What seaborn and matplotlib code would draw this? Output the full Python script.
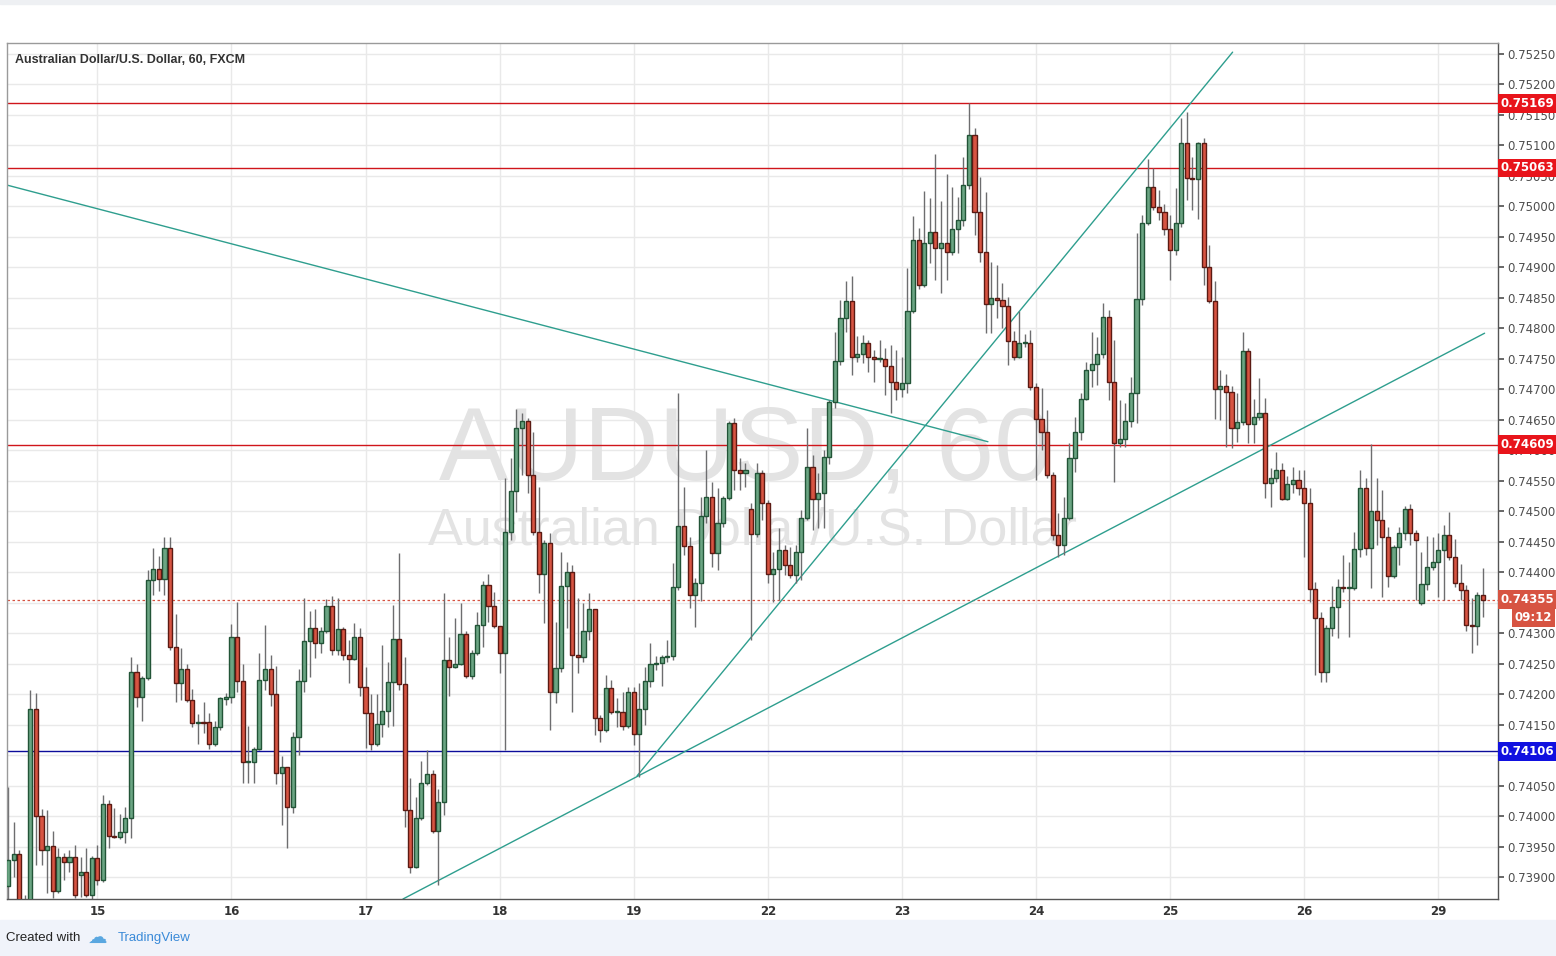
import numpy as np
import pandas as pd
import seaborn as sns
import matplotlib.pyplot as plt
from matplotlib.transforms import blended_transform_factory

# hourly AUD/USD candles (FXCM, 60 min)
opens = [
    0.73885, 0.73928, 0.73938, 0.73854, 0.73846, 0.74176, 0.74000, 0.73944, 0.73951, 0.73877,
    0.73933, 0.73925, 0.73933, 0.73903, 0.73908, 0.73870, 0.73931, 0.73895, 0.74020, 0.73967,
    0.73966, 0.73974, 0.73997, 0.74236, 0.74195, 0.74226, 0.74387, 0.74405, 0.74389, 0.74440,
    0.74277, 0.74218, 0.74241, 0.74190, 0.74153, 0.74154, 0.74154, 0.74118, 0.74146, 0.74192,
    0.74195, 0.74294, 0.74221, 0.74089, 0.74089, 0.74110, 0.74223, 0.74241, 0.74200, 0.74071,
    0.74080, 0.74015, 0.74130, 0.74221, 0.74287, 0.74308, 0.74284, 0.74303, 0.74344, 0.74272,
    0.74307, 0.74264, 0.74258, 0.74294, 0.74212, 0.74169, 0.74118, 0.74151, 0.74172, 0.74220,
    0.74290, 0.74217, 0.74010, 0.73916, 0.73997, 0.74054, 0.74069, 0.73975, 0.74023, 0.74256,
    0.74244, 0.74249, 0.74299, 0.74230, 0.74267, 0.74313, 0.74379, 0.74344, 0.74312, 0.74267,
    0.74466, 0.74533, 0.74636, 0.74648, 0.74559, 0.74466, 0.74397, 0.74448, 0.74203, 0.74243,
    0.74377, 0.74400, 0.74264, 0.74261, 0.74303, 0.74340, 0.74161, 0.74141, 0.74210, 0.74171,
    0.74171, 0.74148, 0.74203, 0.74135, 0.74176, 0.74221, 0.74249, 0.74251, 0.74261, 0.74262,
    0.74376, 0.74476, 0.74443, 0.74363, 0.74382, 0.74492, 0.74523, 0.74431, 0.74481, 0.74522,
    0.74645, 0.74568, 0.74563, 0.74504, 0.74463, 0.74563, 0.74513, 0.74397, 0.74405, 0.74436,
    0.74412, 0.74395, 0.74433, 0.74489, 0.74572, 0.74520, 0.74530, 0.74589, 0.74679, 0.74746,
    0.74817, 0.74845, 0.74753, 0.74758, 0.74776, 0.74753, 0.74750, 0.74750, 0.74738, 0.74712,
    0.74700, 0.74710, 0.74828, 0.74945, 0.74871, 0.74940, 0.74958, 0.74932, 0.74940, 0.74925,
    0.74963, 0.74978, 0.75035, 0.75117, 0.74991, 0.74925, 0.74840, 0.74850, 0.74846, 0.74837,
    0.74779, 0.74753, 0.74776, 0.74776, 0.74704, 0.74651, 0.74630, 0.74559, 0.74461, 0.74445,
    0.74489, 0.74587, 0.74630, 0.74684, 0.74732, 0.74741, 0.74758, 0.74819, 0.74712, 0.74612,
    0.74618, 0.74648, 0.74694, 0.74848, 0.74973, 0.75032, 0.74999, 0.74991, 0.74963, 0.74929,
    0.74973, 0.75104, 0.75047, 0.75045, 0.75104, 0.74901, 0.74845, 0.74700, 0.74705, 0.74696,
    0.74636, 0.74646, 0.74763, 0.74643, 0.74655, 0.74661, 0.74546, 0.74554, 0.74568, 0.74520,
    0.74545, 0.74551, 0.74538, 0.74513, 0.74372, 0.74325, 0.74236, 0.74308, 0.74343, 0.74376,
    0.74374, 0.74374, 0.74438, 0.74538, 0.74440, 0.74500, 0.74486, 0.74458, 0.74394, 0.74441,
    0.74464, 0.74504, 0.74464, 0.74349, 0.74381, 0.74408, 0.74417, 0.74436, 0.74461, 0.74425,
    0.74382, 0.74371, 0.74313, 0.74312, 0.74363,
]
highs = [
    0.74048, 0.73990, 0.73944, 0.73870, 0.74207, 0.74202, 0.74011, 0.74010, 0.73975, 0.73948,
    0.73939, 0.73944, 0.73952, 0.73933, 0.73948, 0.73934, 0.73952, 0.74034, 0.74026, 0.74013,
    0.74003, 0.74015, 0.74261, 0.74249, 0.74230, 0.74404, 0.74440, 0.74427, 0.74458, 0.74458,
    0.74331, 0.74276, 0.74249, 0.74208, 0.74167, 0.74187, 0.74169, 0.74156, 0.74195, 0.74202,
    0.74315, 0.74351, 0.74249, 0.74148, 0.74113, 0.74267, 0.74313, 0.74264, 0.74246, 0.74098,
    0.74080, 0.74138, 0.74241, 0.74358, 0.74336, 0.74340, 0.74310, 0.74356, 0.74361, 0.74358,
    0.74310, 0.74289, 0.74317, 0.74308, 0.74244, 0.74200, 0.74200, 0.74281, 0.74253, 0.74346,
    0.74431, 0.74261, 0.74062, 0.74031, 0.74090, 0.74108, 0.74075, 0.74044, 0.74366, 0.74294,
    0.74325, 0.74349, 0.74303, 0.74272, 0.74335, 0.74385, 0.74397, 0.74367, 0.74312, 0.74554,
    0.74587, 0.74668, 0.74661, 0.74653, 0.74630, 0.74540, 0.74453, 0.74464, 0.74318, 0.74433,
    0.74417, 0.74412, 0.74358, 0.74349, 0.74366, 0.74340, 0.74166, 0.74231, 0.74223, 0.74194,
    0.74203, 0.74212, 0.74212, 0.74218, 0.74244, 0.74284, 0.74262, 0.74264, 0.74289, 0.74415,
    0.74694, 0.74540, 0.74458, 0.74390, 0.74523, 0.74600, 0.74548, 0.74538, 0.74525, 0.74648,
    0.74653, 0.74587, 0.74579, 0.74513, 0.74579, 0.74568, 0.74518, 0.74433, 0.74472, 0.74445,
    0.74441, 0.74445, 0.74502, 0.74636, 0.74592, 0.74563, 0.74600, 0.74682, 0.74794, 0.74846,
    0.74878, 0.74886, 0.74787, 0.74789, 0.74781, 0.74764, 0.74781, 0.74768, 0.74773, 0.74764,
    0.74753, 0.74899, 0.74984, 0.74965, 0.75025, 0.75014, 0.75086, 0.75009, 0.75053, 0.75032,
    0.75015, 0.75081, 0.75170, 0.75129, 0.75048, 0.75024, 0.74909, 0.74904, 0.74874, 0.74851,
    0.74796, 0.74828, 0.74790, 0.74797, 0.74710, 0.74702, 0.74666, 0.74564, 0.74497, 0.74523,
    0.74612, 0.74655, 0.74694, 0.74745, 0.74794, 0.74786, 0.74842, 0.74830, 0.74781, 0.74682,
    0.74677, 0.74720, 0.74956, 0.74986, 0.75078, 0.75063, 0.75027, 0.75004, 0.74986, 0.75030,
    0.75145, 0.75155, 0.75081, 0.75106, 0.75112, 0.74937, 0.74878, 0.74732, 0.74725, 0.74705,
    0.74694, 0.74794, 0.74768, 0.74684, 0.74719, 0.74686, 0.74571, 0.74597, 0.74579, 0.74558,
    0.74573, 0.74568, 0.74568, 0.74538, 0.74384, 0.74335, 0.74313, 0.74377, 0.74389, 0.74428,
    0.74417, 0.74466, 0.74568, 0.74554, 0.74610, 0.74554, 0.74535, 0.74474, 0.74445, 0.74474,
    0.74509, 0.74512, 0.74469, 0.74433, 0.74459, 0.74458, 0.74464, 0.74477, 0.74499, 0.74454,
    0.74413, 0.74379, 0.74358, 0.74367, 0.74407,
]
lows = [
    0.73854, 0.73900, 0.73843, 0.73838, 0.73838, 0.73920, 0.73920, 0.73874, 0.73865, 0.73874,
    0.73895, 0.73908, 0.73865, 0.73867, 0.73867, 0.73864, 0.73887, 0.73892, 0.73948, 0.73964,
    0.73962, 0.73956, 0.73964, 0.74179, 0.74156, 0.74223, 0.74363, 0.74369, 0.74363, 0.74272,
    0.74187, 0.74190, 0.74187, 0.74146, 0.74118, 0.74136, 0.74110, 0.74115, 0.74141, 0.74182,
    0.74185, 0.74203, 0.74054, 0.74054, 0.74054, 0.74108, 0.74207, 0.74180, 0.74052, 0.73985,
    0.73948, 0.74005, 0.74100, 0.74203, 0.74228, 0.74259, 0.74267, 0.74300, 0.74264, 0.74264,
    0.74256, 0.74218, 0.74256, 0.74197, 0.74112, 0.74108, 0.74115, 0.74130, 0.74146, 0.74148,
    0.74207, 0.73982, 0.73907, 0.73915, 0.73993, 0.74051, 0.73972, 0.73887, 0.74002, 0.74197,
    0.74243, 0.74248, 0.74226, 0.74225, 0.74264, 0.74277, 0.74318, 0.74308, 0.74235, 0.74108,
    0.74453, 0.74499, 0.74559, 0.74530, 0.74461, 0.74366, 0.74317, 0.74141, 0.74185, 0.74236,
    0.74308, 0.74171, 0.74235, 0.74253, 0.74289, 0.74133, 0.74121, 0.74138, 0.74167, 0.74146,
    0.74141, 0.74144, 0.74116, 0.74064, 0.74149, 0.74212, 0.74239, 0.74213, 0.74253, 0.74256,
    0.74371, 0.74428, 0.74341, 0.74310, 0.74353, 0.74481, 0.74408, 0.74404, 0.74474, 0.74518,
    0.74535, 0.74535, 0.74540, 0.74289, 0.74458, 0.74486, 0.74382, 0.74351, 0.74354, 0.74395,
    0.74390, 0.74382, 0.74387, 0.74486, 0.74469, 0.74472, 0.74472, 0.74577, 0.74669, 0.74740,
    0.74794, 0.74723, 0.74745, 0.74743, 0.74728, 0.74712, 0.74745, 0.74691, 0.74661, 0.74682,
    0.74687, 0.74694, 0.74825, 0.74865, 0.74868, 0.74907, 0.74879, 0.74858, 0.74879, 0.74920,
    0.74924, 0.74968, 0.75029, 0.74953, 0.74909, 0.74792, 0.74792, 0.74817, 0.74801, 0.74740,
    0.74748, 0.74751, 0.74770, 0.74699, 0.74551, 0.74600, 0.74554, 0.74453, 0.74425, 0.74428,
    0.74486, 0.74564, 0.74617, 0.74682, 0.74704, 0.74707, 0.74751, 0.74682, 0.74548, 0.74605,
    0.74605, 0.74638, 0.74645, 0.74838, 0.74970, 0.74994, 0.74978, 0.74953, 0.74879, 0.74920,
    0.74966, 0.75010, 0.74994, 0.74979, 0.74871, 0.74842, 0.74651, 0.74650, 0.74605, 0.74604,
    0.74614, 0.74641, 0.74612, 0.74612, 0.74650, 0.74522, 0.74507, 0.74548, 0.74518, 0.74518,
    0.74530, 0.74527, 0.74425, 0.74351, 0.74231, 0.74220, 0.74220, 0.74295, 0.74292, 0.74367,
    0.74294, 0.74371, 0.74425, 0.74428, 0.74374, 0.74445, 0.74359, 0.74376, 0.74390, 0.74412,
    0.74453, 0.74445, 0.74354, 0.74346, 0.74371, 0.74404, 0.74359, 0.74354, 0.74420, 0.74376,
    0.74354, 0.74303, 0.74267, 0.74281, 0.74326,
]
closes = [
    0.73928, 0.73938, 0.73854, 0.73846, 0.74176, 0.74000, 0.73944, 0.73951, 0.73877, 0.73933,
    0.73925, 0.73933, 0.73870, 0.73908, 0.73870, 0.73931, 0.73895, 0.74020, 0.73967, 0.73966,
    0.73974, 0.73997, 0.74236, 0.74195, 0.74226, 0.74387, 0.74405, 0.74389, 0.74440, 0.74277,
    0.74218, 0.74241, 0.74190, 0.74153, 0.74154, 0.74153, 0.74118, 0.74146, 0.74194, 0.74195,
    0.74294, 0.74221, 0.74089, 0.74090, 0.74110, 0.74223, 0.74241, 0.74200, 0.74071, 0.74080,
    0.74015, 0.74130, 0.74221, 0.74287, 0.74308, 0.74284, 0.74303, 0.74344, 0.74272, 0.74307,
    0.74264, 0.74258, 0.74294, 0.74212, 0.74169, 0.74118, 0.74151, 0.74172, 0.74220, 0.74290,
    0.74217, 0.74010, 0.73916, 0.73997, 0.74054, 0.74069, 0.73975, 0.74023, 0.74256, 0.74244,
    0.74249, 0.74299, 0.74230, 0.74267, 0.74313, 0.74379, 0.74344, 0.74312, 0.74267, 0.74466,
    0.74533, 0.74636, 0.74648, 0.74559, 0.74466, 0.74397, 0.74448, 0.74203, 0.74243, 0.74377,
    0.74400, 0.74264, 0.74261, 0.74303, 0.74340, 0.74161, 0.74141, 0.74210, 0.74171, 0.74172,
    0.74148, 0.74203, 0.74135, 0.74176, 0.74221, 0.74249, 0.74251, 0.74261, 0.74262, 0.74376,
    0.74476, 0.74443, 0.74363, 0.74382, 0.74492, 0.74523, 0.74431, 0.74481, 0.74522, 0.74645,
    0.74568, 0.74563, 0.74568, 0.74463, 0.74563, 0.74513, 0.74397, 0.74405, 0.74436, 0.74412,
    0.74395, 0.74433, 0.74489, 0.74572, 0.74520, 0.74530, 0.74589, 0.74679, 0.74746, 0.74817,
    0.74845, 0.74753, 0.74758, 0.74776, 0.74753, 0.74750, 0.74751, 0.74738, 0.74712, 0.74700,
    0.74710, 0.74828, 0.74945, 0.74871, 0.74940, 0.74958, 0.74932, 0.74940, 0.74925, 0.74963,
    0.74978, 0.75035, 0.75117, 0.74991, 0.74925, 0.74840, 0.74850, 0.74846, 0.74837, 0.74779,
    0.74753, 0.74776, 0.74777, 0.74704, 0.74651, 0.74630, 0.74559, 0.74461, 0.74445, 0.74489,
    0.74587, 0.74630, 0.74684, 0.74732, 0.74741, 0.74758, 0.74819, 0.74712, 0.74612, 0.74618,
    0.74648, 0.74694, 0.74848, 0.74973, 0.75032, 0.74999, 0.74991, 0.74963, 0.74929, 0.74973,
    0.75104, 0.75047, 0.75045, 0.75104, 0.74901, 0.74845, 0.74700, 0.74705, 0.74696, 0.74636,
    0.74646, 0.74763, 0.74643, 0.74655, 0.74661, 0.74546, 0.74554, 0.74568, 0.74520, 0.74545,
    0.74551, 0.74538, 0.74513, 0.74372, 0.74325, 0.74236, 0.74308, 0.74343, 0.74376, 0.74374,
    0.74375, 0.74438, 0.74538, 0.74440, 0.74500, 0.74486, 0.74458, 0.74394, 0.74441, 0.74464,
    0.74504, 0.74464, 0.74453, 0.74381, 0.74408, 0.74417, 0.74436, 0.74461, 0.74425, 0.74382,
    0.74371, 0.74313, 0.74312, 0.74363, 0.74355,
]

day_bars = [16, 40, 64, 88, 112, 136, 160, 184, 208, 232, 256]
day_labels = ["15", "16", "17", "18", "19", "22", "23", "24", "25", "26", "29"]
price_ticks = [0.7390 + 0.0005 * k for k in range(28)]

# drawn levels and trend lines (bar index, price)
red_levels = [0.75169, 0.75063, 0.74609]
blue_level = 0.74106
last_price = 0.74355
countdown = "09:12"
trend_lines = [
    ([-0.2, 175.4], [0.75035, 0.74614]),
    ([112.6, 219.2], [0.74066, 0.75253]),
    ([70.7, 264.3], [0.73864, 0.74792]),
]

sns.set_theme(style="white")
plt.rcParams["font.family"] = ["DejaVu Sans"]

df = pd.DataFrame({"open": opens, "high": highs, "low": lows, "close": closes})
df["bar"] = np.arange(len(df))
df["up"] = df["close"] >= df["open"]

W, H = 1556, 956
fig = plt.figure(figsize=(W / 100, H / 100), dpi=100)
fig.patch.set_facecolor("white")
ax = fig.add_axes([7 / W, 1 - 899 / H, (1498 - 7) / W, (899 - 43) / H])
ax.set_xlim(-0.18, 266.7)
ax.set_ylim(0.73864, 0.75268)

# grid
for p in price_ticks:
    ax.axhline(p, color="#e9e9e9", lw=1, zorder=0)
for b in day_bars:
    ax.axvline(b, color="#e9e9e9", lw=1, zorder=0)

# watermark
ax.text(0.4956, 0.4895, "AUDUSD, 60", transform=ax.transAxes, ha="center", va="baseline",
        fontsize=75, color="#e3e3e3", family="Liberation Sans", zorder=0.5)
ax.text(0.500, 0.4136, "Australian Dollar/U.S. Dollar", transform=ax.transAxes, ha="center",
        va="baseline", fontsize=37.5, color="#e3e3e3", family="Liberation Sans", zorder=0.5)

# horizontal levels
for lv in red_levels:
    ax.axhline(lv, color="#d0151b", lw=1, zorder=1.5)
ax.axhline(blue_level, color="#0c0c9a", lw=1, zorder=1.5)
ax.axhline(last_price, color="#d75442", lw=0.9, ls=(0, (2, 2)), zorder=1.5)

# trend lines
for xs, ys in trend_lines:
    sns.lineplot(x=xs, y=ys, ax=ax, color="#2e9e8e", lw=1, zorder=1.6, estimator=None, sort=False)

# candles
ax.vlines(df["bar"], df["low"], df["high"], color="#6d6d6f", lw=1, zorder=2)
body = (df["close"] - df["open"]).abs().clip(lower=0.000012)
bottom = df[["open", "close"]].min(axis=1)
up = df["up"]
ax.bar(df["bar"][up], body[up], bottom=bottom[up], width=0.74, color="#6ba583",
       edgecolor="#225437", lw=1, zorder=3)
ax.bar(df["bar"][~up], body[~up], bottom=bottom[~up], width=0.74, color="#d75442",
       edgecolor="#5b1a13", lw=1, zorder=3)

# axes styling; labels fully hidden behind a price box are left blank
boxed = red_levels + [blue_level, last_price]
ax.yaxis.tick_right()
ax.set_yticks(price_ticks)
ax.set_yticklabels(["" if min(abs(p - b) for b in boxed) < 0.00008 else f"{p:.5f}"
                    for p in price_ticks], fontsize=8.5, color="#4e4e4e")
ax.tick_params(axis="y", length=4, color="#555555", pad=3, direction="out", right=True)
ax.set_xticks(day_bars)
ax.set_xticklabels(day_labels, fontsize=8.5, color="#333333", fontweight="bold")
ax.tick_params(axis="x", length=0, pad=4)
for side in ["left", "top"]:
    ax.spines[side].set_color("#9a9a9a")
    ax.spines[side].set_linewidth(1)
for side in ["right", "bottom"]:
    ax.spines[side].set_color("#555555")
    ax.spines[side].set_linewidth(1)

# price boxes on the axis
tr = blended_transform_factory(ax.transAxes, ax.transData)
box_x = 1.0 + 3 / (1498 - 7)
for lv in red_levels:
    ax.text(box_x, lv, f"{lv:.5f}", transform=tr, ha="left", va="center", fontsize=8.5,
            color="white", fontweight="bold", clip_on=False, zorder=10,
            bbox=dict(boxstyle="square,pad=0.25", fc="#e8141b", ec="none"))
ax.text(box_x, blue_level, f"{blue_level:.5f}", transform=tr, ha="left", va="center",
        fontsize=8.5, color="white", fontweight="bold", clip_on=False, zorder=10,
        bbox=dict(boxstyle="square,pad=0.25", fc="#1111e0", ec="none"))
ax.text(box_x, last_price, f"{last_price:.5f}", transform=tr, ha="left", va="center",
        fontsize=8.5, color="white", fontweight="bold", clip_on=False, zorder=10,
        bbox=dict(boxstyle="square,pad=0.25", fc="#d75442", ec="none"))
ax.text(box_x + 14 / 1491, last_price - 0.00029, countdown, transform=tr, ha="left",
        va="center", fontsize=8.5, color="white", fontweight="bold", clip_on=False, zorder=10,
        bbox=dict(boxstyle="square,pad=0.25", fc="#d75442", ec="none"))

# title inside plot
ax.text(8 / 1491, 1 - 17 / 856, "Australian Dollar/U.S. Dollar, 60, FXCM", transform=ax.transAxes,
        ha="left", va="center", fontsize=9, color="#333333", family="Liberation Sans",
        fontweight="bold", zorder=10)

# top strip and footer
fig.patches.append(plt.Rectangle((0, 1 - 4 / H), 1, 4 / H, transform=fig.transFigure,
                                 color="#eef0f3", zorder=0))
fig.patches.append(plt.Rectangle((0, 0), 1, 36 / H, transform=fig.transFigure,
                                 color="#f0f3fa", zorder=0))
fig.text(6 / W, 1 - 938 / H, "Created with", ha="left", va="center", fontsize=9.5,
         color="#222222", family="Liberation Sans")
fig.text(88 / W, 1 - 937 / H, "\u2601", ha="left", va="center", fontsize=14, color="#5aa7e0")
fig.text(118 / W, 1 - 938 / H, "TradingView", ha="left", va="center", fontsize=9.5,
         color="#3a8ad8", family="Liberation Sans")

fig.savefig("out.png", dpi=100, facecolor="white")
